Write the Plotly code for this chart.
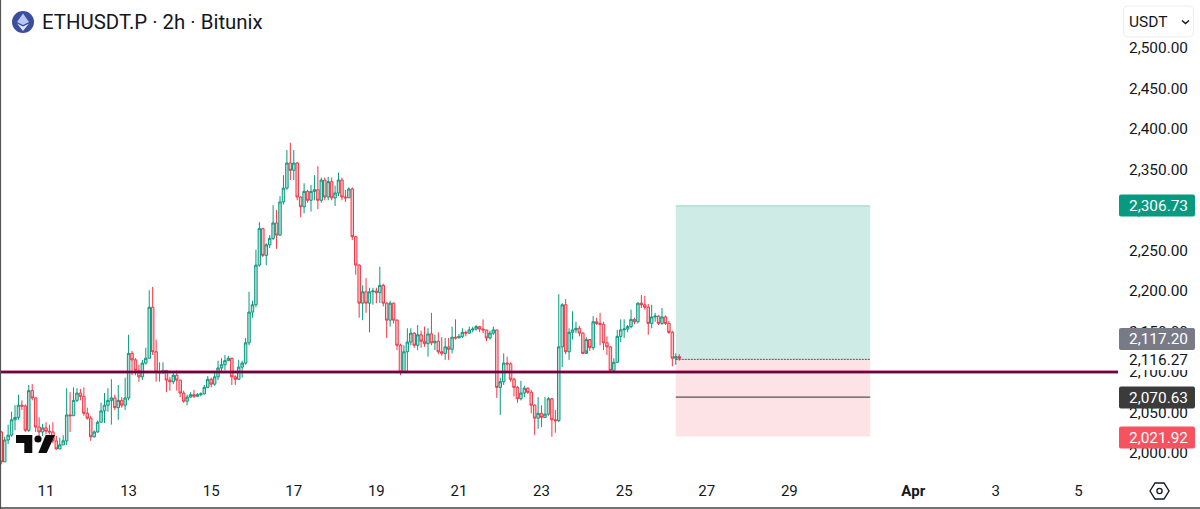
import pandas as pd
import plotly.graph_objects as go

FIRST_BAR = "2026-03-09 22:00"
FIRST_OPEN = 2026
closes = [1989,2016,2022,2041,2044,2059,2058,2028,2077,2068,2032,2026,2031,2027,2026,2015,2005,2010,2015,2047,
2046,2065,2074,2070,2049,2043,2020,2026,2038,2052,2059,2065,2068,2056,2065,2059,2068,2123,2115,2102,
2094,2111,2117,2180,2125,2100,2099,2102,2090,2088,2096,2090,2074,2064,2069,2072,2070,2072,2073,2081,
2091,2085,2094,2105,2109,2114,2117,2094,2091,2106,2111,2136,2174,2183,2232,2277,2244,2257,2265,2284,
2269,2310,2327,2358,2349,2358,2316,2304,2323,2312,2323,2325,2312,2337,2316,2335,2315,2321,2337,2316,
2315,2326,2267,2232,2185,2199,2185,2199,2200,2198,2207,2185,2164,2185,2164,2133,2100,2125,2137,2148,
2133,2146,2138,2135,2147,2136,2138,2125,2123,2131,2128,2143,2142,2144,2149,2148,2152,2153,2156,2153,
2152,2142,2148,2152,2081,2088,2111,2110,2091,2081,2067,2074,2080,2075,2059,2043,2049,2044,2048,2067,
2041,2040,2131,2183,2125,2149,2152,2154,2148,2123,2140,2130,2162,2160,2159,2136,2131,2102,2112,2144,
2152,2153,2156,2165,2162,2185,2183,2180,2160,2168,2169,2160,2168,2160,2149,2117,2119,2117]
highs = [2027,2020,2035,2051,2059,2072,2065,2060,2084,2085,2069,2044,2036,2038,2035,2038,2021,2019,2022,2080,
2075,2081,2080,2079,2081,2056,2046,2028,2040,2062,2074,2080,2091,2072,2084,2069,2093,2146,2126,2117,
2109,2115,2130,2201,2205,2140,2112,2112,2102,2094,2100,2102,2090,2077,2072,2075,2078,2074,2075,2084,
2095,2093,2100,2114,2117,2121,2120,2116,2096,2115,2114,2142,2199,2188,2251,2285,2278,2259,2269,2306,
2300,2317,2343,2374,2383,2374,2359,2317,2333,2325,2331,2343,2354,2340,2340,2341,2340,2330,2346,2340,
2325,2328,2328,2268,2233,2207,2216,2204,2204,2204,2230,2209,2186,2188,2186,2165,2135,2133,2154,2154,
2149,2158,2151,2156,2154,2173,2146,2149,2143,2142,2142,2156,2165,2147,2154,2151,2156,2156,2158,2157,
2165,2152,2151,2156,2152,2093,2123,2119,2112,2093,2083,2089,2083,2081,2078,2060,2069,2059,2069,2069,
2068,2053,2196,2185,2190,2154,2175,2162,2157,2149,2143,2141,2169,2167,2173,2162,2144,2132,2117,2152,
2165,2165,2158,2177,2167,2186,2195,2194,2184,2183,2173,2170,2179,2170,2163,2151,2123,2122]
lows = [1986,1989,2011,2020,2028,2041,2053,2026,2026,2065,2026,2020,2021,2023,2023,2012,2004,2005,2010,2010,
2026,2046,2063,2065,2046,2041,2015,2019,2025,2038,2037,2051,2035,2053,2041,2056,2053,2065,2096,2096,
2088,2090,2109,2117,2121,2088,2088,2098,2075,2077,2085,2077,2069,2062,2059,2068,2068,2069,2070,2072,
2080,2081,2083,2090,2100,2102,2114,2084,2084,2090,2093,2109,2133,2167,2180,2230,2242,2232,2253,2263,
2252,2268,2307,2325,2337,2337,2312,2291,2296,2309,2298,2312,2301,2309,2312,2312,2312,2305,2317,2312,
2310,2315,2263,2220,2167,2164,2173,2149,2183,2185,2185,2181,2142,2156,2160,2127,2096,2099,2100,2133,
2130,2127,2130,2131,2119,2133,2127,2122,2120,2115,2115,2123,2140,2142,2142,2144,2147,2149,2151,2149,
2148,2138,2140,2146,2068,2047,2084,2099,2088,2070,2062,2065,2069,2073,2049,2022,2030,2032,2043,2046,
2020,2025,2038,2106,2122,2115,2140,2148,2144,2122,2127,2126,2127,2158,2133,2127,2121,2100,2100,2111,
2137,2142,2149,2154,2159,2160,2179,2177,2146,2154,2162,2158,2158,2158,2147,2107,2109,2114]

price_ticks = [2000,2050,2100,2150,2200,2250,2300,2350,2400,2450,2500]
date_ticks = ["2026-03-11","2026-03-13","2026-03-15","2026-03-17","2026-03-19","2026-03-21","2026-03-23",
              "2026-03-25","2026-03-27","2026-03-29","2026-04-01","2026-04-03","2026-04-05"]
date_labels = ["11","13","15","17","19","21","23","25","27","29","<b>Apr</b>","3","5"]

support_level = 2100
target_price = 2306.73
entry_price = 2117.20
stop_price = 2021.92
mid_price = 2070.63
last_price = 2116.27
box_start = "2026-03-26 06:00"
box_end = "2026-03-30 23:00"
level_offset = 1.6  # the source's axis labels sit a little above their true level

x_start = "2026-03-09 21:16"
x_end = "2026-04-05 23:00"
y_low, y_high = 1972.84, 2559.26

W, H = 1200, 509
UP, DOWN = "#089981", "#F23645"
TEXT = "#131722"
FONT = "Roboto"

dates = pd.date_range(FIRST_BAR, periods=len(closes), freq="2h")
opens = [FIRST_OPEN] + closes[:-1]

def px(x): return x / W
def py(y): return 1 - y / H
def path(pts, close=True):
    s = "M" + " L".join(f"{px(a):.5f},{py(b):.5f}" for a, b in pts)
    return s + (" Z" if close else "")
def rrect(x0, y0, x1, y1, r):
    p = lambda a, b: f"{px(a):.5f},{py(b):.5f}"
    return (f"M{p(x0+r,y0)} L{p(x1-r,y0)} Q{p(x1,y0)} {p(x1,y0+r)} L{p(x1,y1-r)} Q{p(x1,y1)} {p(x1-r,y1)} "
            f"L{p(x0+r,y1)} Q{p(x0,y1)} {p(x0,y1-r)} L{p(x0,y0+r)} Q{p(x0,y0)} {p(x0+r,y0)} Z")

fig = go.Figure(go.Candlestick(
    x=dates, open=opens, high=highs, low=lows, close=closes,
    increasing=dict(line=dict(color=UP, width=1), fillcolor="rgba(8,153,129,0.30)"),
    decreasing=dict(line=dict(color=DOWN, width=1), fillcolor="rgba(242,54,69,0.30)"),
    whiskerwidth=0, showlegend=False, hoverinfo="skip"))

shapes = []
def pshape(d, fill=None, line=None, lw=1, layer="above"):
    shapes.append(dict(type="path", xref="paper", yref="paper", path=d, fillcolor=fill or "rgba(0,0,0,0)",
                       line=dict(color=line or "rgba(0,0,0,0)", width=lw), layer=layer))
def circle(cx, cy, r, fill=None, line=None, lw=1):
    shapes.append(dict(type="circle", xref="paper", yref="paper", x0=px(cx-r), x1=px(cx+r), y0=py(cy+r), y1=py(cy-r),
                       fillcolor=fill or "rgba(0,0,0,0)", line=dict(color=line or "rgba(0,0,0,0)", width=lw), layer="above"))

# position tool
y_e, y_t, y_s, y_m = (v - level_offset for v in (entry_price, target_price, stop_price, mid_price))
shapes.append(dict(type="rect", xref="x", yref="y", x0=box_start, x1=box_end, y0=y_e, y1=y_t,
                   fillcolor="rgba(8,153,129,0.20)", line=dict(width=0), layer="below"))
shapes.append(dict(type="rect", xref="x", yref="y", x0=box_start, x1=box_end, y0=y_s, y1=y_e,
                   fillcolor="rgba(242,54,69,0.14)", line=dict(width=0), layer="below"))
shapes.append(dict(type="line", xref="x", yref="y", x0=box_start, x1=box_end, y0=y_t, y1=y_t,
                   line=dict(color="rgba(8,153,129,0.35)", width=1), layer="below"))
shapes.append(dict(type="line", xref="x", yref="y", x0=box_start, x1=box_end, y0=y_m, y1=y_m,
                   line=dict(color="#555555", width=1.2), layer="above"))
shapes.append(dict(type="line", xref="x", yref="y", x0=box_start, x1=box_end, y0=y_e, y1=y_e,
                   line=dict(color="#555555", width=1, dash="2px,1px"), layer="above"))
# horizontal level
shapes.append(dict(type="line", xref="paper", yref="y", x0=0, x1=1118/W, y0=support_level, y1=support_level,
                   line=dict(color="#B4125F", width=3), layer="above"))
shapes.append(dict(type="line", xref="paper", yref="y", x0=0, x1=1118/W, y0=support_level, y1=support_level,
                   line=dict(color="#4A0A32", width=1.4), layer="above"))
# frame
shapes.append(dict(type="line", xref="paper", yref="paper", x0=px(0.5), x1=px(0.5), y0=0, y1=1,
                   line=dict(color="#555555", width=1.2), layer="above"))
shapes.append(dict(type="line", xref="paper", yref="paper", x0=0, x1=1, y0=py(508), y1=py(508),
                   line=dict(color="#444444", width=1.4), layer="above"))
# TradingView mark
pshape(path([(16,435),(32.3,435),(32.3,453),(24.3,453),(24.3,443),(16,443)]), fill="#0c0c0c")
circle(38, 439, 3.6, fill="#0c0c0c")
pshape(path([(45.7,435),(55,435),(46.7,453),(38.3,453)]), fill="#0c0c0c")
# coin icon
circle(23, 22, 11, fill="#3B4E9E")
pshape(path([(23,13.5),(29,22),(23,25),(17,22)]), fill="#B9C7F2")
pshape(path([(17,23.5),(23,26.5),(29,23.5),(23,31)]), fill="#DCE4FB")
# currency button
pshape(rrect(1123.5,6,1193.5,37,5), fill="#FFFFFF", line="#EDEDED")
pshape(path([(1182,20.5),(1185.5,23.5),(1189,20.5)], close=False), line=TEXT, lw=1.5)
# settings hexagon
pshape(path([(1150,491),(1155,483),(1164,483),(1169,491),(1164,499),(1155,499)]), line=TEXT, lw=1.4)
circle(1159.5, 491, 2.6, line=TEXT, lw=1.3)
# price tags
tags = [(target_price, 205.5, UP, "#FFFFFF"), (entry_price, 339, "#787B86", "#FFFFFF"),
        (mid_price, 397.5, "#3B3B3B", "#FFFFFF"), (stop_price, 437.5, "#F7525F", "#FFFFFF")]
pshape(path([(1119,350),(1196,350),(1196,370),(1119,370)]), fill="#FFFFFF")
for value, yc, col, fc in tags:
    pshape(rrect(1119, yc-11, 1195, yc+11, 2), fill=col)

ann = [dict(x=px(40.5), y=py(22), xanchor="left", yanchor="middle", text="ETHUSDT.P · 2h · Bitunix",
            font=dict(family=FONT, size=20.4, color=TEXT)),
       dict(x=px(1127.5), y=py(22), xanchor="left", yanchor="middle", text="USDT",
            font=dict(family=FONT, size=15.5, color=TEXT)),
       dict(x=px(1189), y=py(360), xanchor="right", yanchor="middle", text=f"{last_price:,.2f}",
            font=dict(family=FONT, size=15.4, color=TEXT))]
for value, yc, col, fc in tags:
    ann.append(dict(x=px(1189), y=py(yc), xanchor="right", yanchor="middle", text=f"{value:,.2f}",
                    font=dict(family=FONT, size=15.4, color=fc)))
for a in ann:
    a.update(xref="paper", yref="paper", showarrow=False, borderpad=0)

fig.update_layout(
    width=W, height=H, margin=dict(l=0, r=0, t=0, b=0), autosize=False,
    paper_bgcolor="white", plot_bgcolor="white", showlegend=False,
    boxgap=0.2, boxgroupgap=0.1,
    font=dict(family=FONT, color=TEXT), shapes=shapes, annotations=ann,
    xaxis=dict(domain=[0, 1118/W], type="date", range=[x_start, x_end], rangeslider=dict(visible=False),
               showgrid=False, zeroline=False, showline=False, ticks="", tickmode="array",
               tickvals=date_ticks, ticktext=date_labels, tickfont=dict(family=FONT, size=15, color=TEXT),
               ticklabelstandoff=5, automargin=False),
    yaxis=dict(domain=[1-475/H, 1], side="right", range=[y_low, y_high], showgrid=False, zeroline=False,
               showline=False, ticks="", tickmode="array", tickvals=price_ticks,
               ticktext=[f"{v:,.2f}" for v in price_ticks], tickfont=dict(family=FONT, size=15.4, color=TEXT),
               ticklabelstandoff=10, automargin=False))

fig.write_html("out.html", config=dict(displayModeBar=False),
               post_script="document.body.style.margin='0';document.body.style.overflow='hidden';")
